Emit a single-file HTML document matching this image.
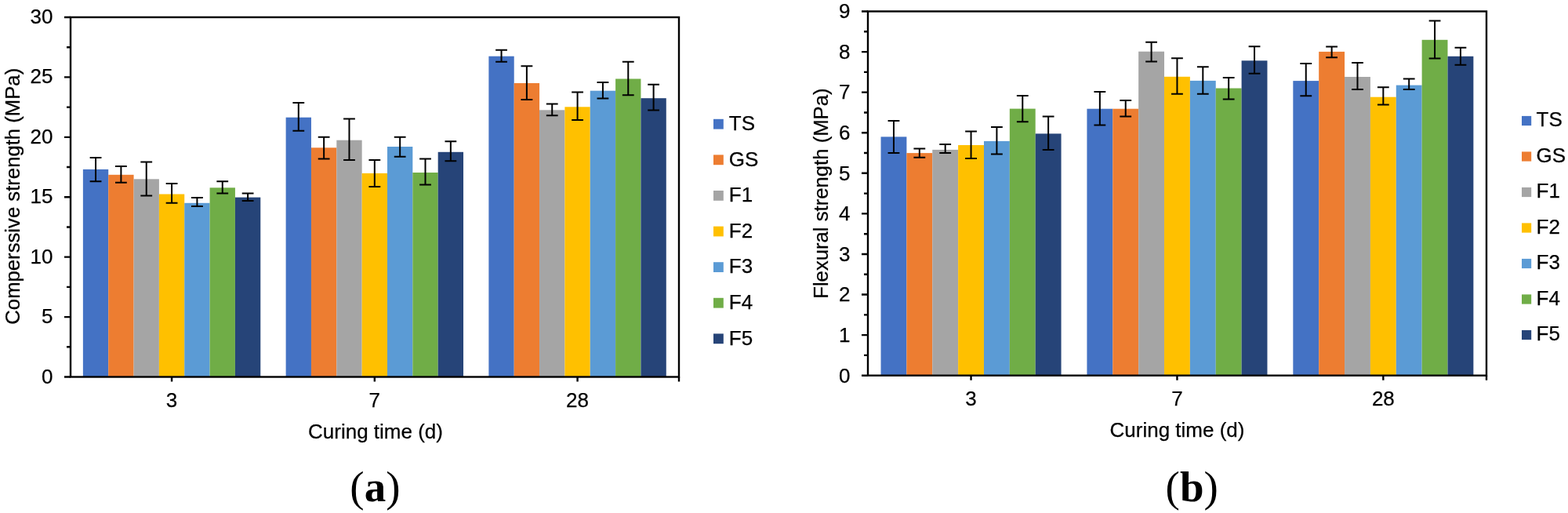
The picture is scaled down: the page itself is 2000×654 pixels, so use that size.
<!DOCTYPE html>
<html><head><meta charset="utf-8"><title>Compressive and flexural strength</title>
<style>
html,body{margin:0;padding:0;background:#fff;width:2000px;height:654px;overflow:hidden}
svg{display:block}
.t{font-family:"Liberation Sans",Arial,sans-serif;font-size:26px;fill:#000;stroke:#000;stroke-width:0.25px}
.p{font-family:"Liberation Serif","Times New Roman",serif;font-size:55px;font-weight:normal;fill:#000}
</style></head><body>
<svg width="2000" height="654" viewBox="0 0 2000 654">
<rect width="2000" height="654" fill="#fff"/>
<rect x="105.87" y="215.9" width="32.34" height="264.6" fill="#4472C4"/>
<rect x="138.22" y="222.8" width="32.34" height="257.7" fill="#ED7D31"/>
<rect x="170.56" y="228.3" width="32.34" height="252.2" fill="#A5A5A5"/>
<rect x="202.9" y="247.5" width="32.34" height="233" fill="#FFC000"/>
<rect x="235.25" y="258.8" width="32.34" height="221.7" fill="#5B9BD5"/>
<rect x="267.59" y="239.3" width="32.34" height="241.2" fill="#70AD47"/>
<rect x="299.93" y="251.6" width="32.34" height="228.9" fill="#264478"/>
<rect x="364.62" y="149.7" width="32.34" height="330.8" fill="#4472C4"/>
<rect x="396.97" y="188.3" width="32.34" height="292.2" fill="#ED7D31"/>
<rect x="429.31" y="178.7" width="32.34" height="301.8" fill="#A5A5A5"/>
<rect x="461.65" y="220.9" width="32.34" height="259.6" fill="#FFC000"/>
<rect x="494" y="187" width="32.34" height="293.5" fill="#5B9BD5"/>
<rect x="526.34" y="220" width="32.34" height="260.5" fill="#70AD47"/>
<rect x="558.68" y="193.8" width="32.34" height="286.7" fill="#264478"/>
<rect x="623.37" y="71.7" width="32.34" height="408.8" fill="#4472C4"/>
<rect x="655.72" y="106" width="32.34" height="374.5" fill="#ED7D31"/>
<rect x="688.06" y="140.3" width="32.34" height="340.2" fill="#A5A5A5"/>
<rect x="720.4" y="136.3" width="32.34" height="344.2" fill="#FFC000"/>
<rect x="752.75" y="115.7" width="32.34" height="364.8" fill="#5B9BD5"/>
<rect x="785.09" y="100.5" width="32.34" height="380" fill="#70AD47"/>
<rect x="817.43" y="125.2" width="32.34" height="355.3" fill="#264478"/>
<path d="M122.04 201V231.3M114.64 201H129.44M114.64 231.3H129.44M154.39 212V232.7M146.99 212H161.79M146.99 232.7H161.79M186.73 206.5V249.4M179.33 206.5H194.13M179.33 249.4H194.13M219.07 234V258.8M211.67 234H226.47M211.67 258.8H226.47M251.42 251.9V262.9M244.02 251.9H258.82M244.02 262.9H258.82M283.76 231.3V246.4M276.36 231.3H291.16M276.36 246.4H291.16M316.11 246.4V256M308.71 246.4H323.51M308.71 256H323.51M380.79 131V166.8M373.39 131H388.19M373.39 166.8H388.19M413.14 174.7V202.6M405.74 174.7H420.54M405.74 202.6H420.54M445.48 151.6V203.9M438.08 151.6H452.88M438.08 203.9H452.88M477.82 203.9V238M470.43 203.9H485.22M470.43 238H485.22M510.17 174.7V199.8M502.77 174.7H517.57M502.77 199.8H517.57M542.51 202.6V235.6M535.11 202.6H549.91M535.11 235.6H549.91M574.86 180.2V205.3M567.46 180.2H582.26M567.46 205.3H582.26M639.54 63.8V78.8M632.14 63.8H646.94M632.14 78.8H646.94M671.89 84.3V127.1M664.49 84.3H679.29M664.49 127.1H679.29M704.23 132.6V147.3M696.83 132.6H711.63M696.83 147.3H711.63M736.58 117.4V153.1M729.18 117.4H743.98M729.18 153.1H743.98M768.92 105.1V125.6M761.52 105.1H776.32M761.52 125.6H776.32M801.26 78.8V121.2M793.86 78.8H808.66M793.86 121.2H808.66M833.61 107.8V140.5M826.21 107.8H841.01M826.21 140.5H841.01" stroke="#000" stroke-width="2" fill="none"/>
<rect x="90" y="22" width="776" height="458.5" fill="none" stroke="#000" stroke-width="2.4"/>
<path d="M82 480.5H90M85 442.29H90M82 404.08H90M85 365.88H90M82 327.67H90M85 289.46H90M82 251.25H90M85 213.04H90M82 174.83H90M85 136.62H90M82 98.42H90M85 60.21H90M82 22H90M219.07 480.5V486.5M477.82 480.5V486.5M736.58 480.5V486.5M866 480.5V486.5" stroke="#000" stroke-width="2.4" fill="none"/>
<text x="67.4" y="488.5" text-anchor="end" class="t">0</text>
<text x="67.4" y="412.08" text-anchor="end" class="t">5</text>
<text x="67.4" y="335.67" text-anchor="end" class="t">10</text>
<text x="67.4" y="259.25" text-anchor="end" class="t">15</text>
<text x="67.4" y="182.83" text-anchor="end" class="t">20</text>
<text x="67.4" y="106.42" text-anchor="end" class="t">25</text>
<text x="67.4" y="30" text-anchor="end" class="t">30</text>
<text x="219.07" y="519" text-anchor="middle" class="t">3</text>
<text x="477.82" y="519" text-anchor="middle" class="t">7</text>
<text x="736.58" y="519" text-anchor="middle" class="t">28</text>
<text x="479" y="558.8" text-anchor="middle" class="t">Curing time (d)</text>
<text transform="translate(24.5 250.25) rotate(-90)" x="0" y="0" text-anchor="middle" class="t" style="font-size:25.7px">Comperssive strength (MPa)</text>
<rect x="910" y="151.8" width="12.8" height="12.8" fill="#4472C4"/>
<text x="929.8" y="165.9" class="t">TS</text>
<rect x="910" y="197.4" width="12.8" height="12.8" fill="#ED7D31"/>
<text x="929.8" y="211.5" class="t">GS</text>
<rect x="910" y="243" width="12.8" height="12.8" fill="#A5A5A5"/>
<text x="929.8" y="257.1" class="t">F1</text>
<rect x="910" y="288.6" width="12.8" height="12.8" fill="#FFC000"/>
<text x="929.8" y="302.7" class="t">F2</text>
<rect x="910" y="334.2" width="12.8" height="12.8" fill="#5B9BD5"/>
<text x="929.8" y="348.3" class="t">F3</text>
<rect x="910" y="379.8" width="12.8" height="12.8" fill="#70AD47"/>
<text x="929.8" y="393.9" class="t">F4</text>
<rect x="910" y="425.4" width="12.8" height="12.8" fill="#264478"/>
<text x="929.8" y="439.5" class="t">F5</text>
<text x="478.4" y="639" text-anchor="middle" class="p">(<tspan font-weight="bold">a</tspan>)</text>
<rect x="1123.53" y="174.4" width="32.86" height="304.3" fill="#4472C4"/>
<rect x="1156.39" y="195.1" width="32.86" height="283.6" fill="#ED7D31"/>
<rect x="1189.26" y="190.9" width="32.86" height="287.8" fill="#A5A5A5"/>
<rect x="1222.12" y="185" width="32.86" height="293.7" fill="#FFC000"/>
<rect x="1254.98" y="179.9" width="32.86" height="298.8" fill="#5B9BD5"/>
<rect x="1287.84" y="138.6" width="32.86" height="340.1" fill="#70AD47"/>
<rect x="1320.71" y="170.4" width="32.86" height="308.3" fill="#264478"/>
<rect x="1386.43" y="138.7" width="32.86" height="340" fill="#4472C4"/>
<rect x="1419.29" y="138.7" width="32.86" height="340" fill="#ED7D31"/>
<rect x="1452.16" y="65.7" width="32.86" height="413" fill="#A5A5A5"/>
<rect x="1485.02" y="97.8" width="32.86" height="380.9" fill="#FFC000"/>
<rect x="1517.88" y="102.9" width="32.86" height="375.8" fill="#5B9BD5"/>
<rect x="1550.74" y="112.5" width="32.86" height="366.2" fill="#70AD47"/>
<rect x="1583.61" y="77.3" width="32.86" height="401.4" fill="#264478"/>
<rect x="1649.33" y="103.1" width="32.86" height="375.6" fill="#4472C4"/>
<rect x="1682.19" y="65.9" width="32.86" height="412.8" fill="#ED7D31"/>
<rect x="1715.06" y="98" width="32.86" height="380.7" fill="#A5A5A5"/>
<rect x="1747.92" y="123.7" width="32.86" height="355" fill="#FFC000"/>
<rect x="1780.78" y="108.6" width="32.86" height="370.1" fill="#5B9BD5"/>
<rect x="1813.64" y="50.8" width="32.86" height="427.9" fill="#70AD47"/>
<rect x="1846.51" y="71.8" width="32.86" height="406.9" fill="#264478"/>
<path d="M1139.96 153.9V195.1M1132.56 153.9H1147.36M1132.56 195.1H1147.36M1172.83 189.6V200.7M1165.42 189.6H1180.23M1165.42 200.7H1180.23M1205.69 184.1V195.1M1198.29 184.1H1213.09M1198.29 195.1H1213.09M1238.55 167.6V201.9M1231.15 167.6H1245.95M1231.15 201.9H1245.95M1271.41 162.1V196.4M1264.01 162.1H1278.81M1264.01 196.4H1278.81M1304.28 121.9V155.3M1296.88 121.9H1311.68M1296.88 155.3H1311.68M1337.14 148.4V191.1M1329.74 148.4H1344.54M1329.74 191.1H1344.54M1402.86 117.1V159.6M1395.46 117.1H1410.26M1395.46 159.6H1410.26M1435.73 128.1V148.6M1428.33 128.1H1443.13M1428.33 148.6H1443.13M1468.59 53.8V78.5M1461.19 53.8H1475.99M1461.19 78.5H1475.99M1501.45 74.3V119.8M1494.05 74.3H1508.85M1494.05 119.8H1508.85M1534.31 85.3V119.8M1526.91 85.3H1541.71M1526.91 119.8H1541.71M1567.18 99.1V126.6M1559.78 99.1H1574.58M1559.78 126.6H1574.58M1600.04 59.3V93.8M1592.64 59.3H1607.44M1592.64 93.8H1607.44M1665.76 81.1V122.2M1658.36 81.1H1673.16M1658.36 122.2H1673.16M1698.62 59.5V73.2M1691.22 59.5H1706.03M1691.22 73.2H1706.03M1731.49 80V114.1M1724.09 80H1738.89M1724.09 114.1H1738.89M1764.35 111.2V133.4M1756.95 111.2H1771.75M1756.95 133.4H1771.75M1797.21 100.4V114.1M1789.81 100.4H1804.61M1789.81 114.1H1804.61M1830.08 26.4V74.5M1822.67 26.4H1837.48M1822.67 74.5H1837.48M1862.94 60.7V82.8M1855.54 60.7H1870.34M1855.54 82.8H1870.34" stroke="#000" stroke-width="2" fill="none"/>
<rect x="1107" y="14.5" width="789" height="464.2" fill="none" stroke="#000" stroke-width="2.4"/>
<path d="M1099 478.7H1107M1102 452.91H1107M1099 427.12H1107M1102 401.33H1107M1099 375.54H1107M1102 349.76H1107M1099 323.97H1107M1102 298.18H1107M1099 272.39H1107M1102 246.6H1107M1099 220.81H1107M1102 195.02H1107M1099 169.23H1107M1102 143.44H1107M1099 117.66H1107M1102 91.87H1107M1099 66.08H1107M1102 40.29H1107M1099 14.5H1107M1238.55 478.7V484.7M1501.45 478.7V484.7M1764.35 478.7V484.7M1896 478.7V484.7" stroke="#000" stroke-width="2.4" fill="none"/>
<text x="1084.4" y="487.5" text-anchor="end" class="t">0</text>
<text x="1084.4" y="435.92" text-anchor="end" class="t">1</text>
<text x="1084.4" y="384.34" text-anchor="end" class="t">2</text>
<text x="1084.4" y="332.77" text-anchor="end" class="t">3</text>
<text x="1084.4" y="281.19" text-anchor="end" class="t">4</text>
<text x="1084.4" y="229.61" text-anchor="end" class="t">5</text>
<text x="1084.4" y="178.03" text-anchor="end" class="t">6</text>
<text x="1084.4" y="126.46" text-anchor="end" class="t">7</text>
<text x="1084.4" y="74.88" text-anchor="end" class="t">8</text>
<text x="1084.4" y="23.3" text-anchor="end" class="t">9</text>
<text x="1238.55" y="516.5" text-anchor="middle" class="t">3</text>
<text x="1501.45" y="516.5" text-anchor="middle" class="t">7</text>
<text x="1764.35" y="516.5" text-anchor="middle" class="t">28</text>
<text x="1501.5" y="557" text-anchor="middle" class="t">Curing time (d)</text>
<text transform="translate(1056 246.6) rotate(-90)" x="0" y="0" text-anchor="middle" class="t" style="font-size:25.7px">Flexural strength (MPa)</text>
<rect x="1941" y="147.9" width="12.2" height="12.2" fill="#4472C4"/>
<text x="1959.5" y="161.4" class="t">TS</text>
<rect x="1941" y="193.4" width="12.2" height="12.2" fill="#ED7D31"/>
<text x="1959.5" y="206.9" class="t">GS</text>
<rect x="1941" y="238.9" width="12.2" height="12.2" fill="#A5A5A5"/>
<text x="1959.5" y="252.4" class="t">F1</text>
<rect x="1941" y="284.4" width="12.2" height="12.2" fill="#FFC000"/>
<text x="1959.5" y="297.9" class="t">F2</text>
<rect x="1941" y="329.9" width="12.2" height="12.2" fill="#5B9BD5"/>
<text x="1959.5" y="343.4" class="t">F3</text>
<rect x="1941" y="375.4" width="12.2" height="12.2" fill="#70AD47"/>
<text x="1959.5" y="388.9" class="t">F4</text>
<rect x="1941" y="420.9" width="12.2" height="12.2" fill="#264478"/>
<text x="1959.5" y="434.4" class="t">F5</text>
<text x="1520.2" y="639" text-anchor="middle" class="p">(<tspan font-weight="bold">b</tspan>)</text>
</svg>
</body></html>
